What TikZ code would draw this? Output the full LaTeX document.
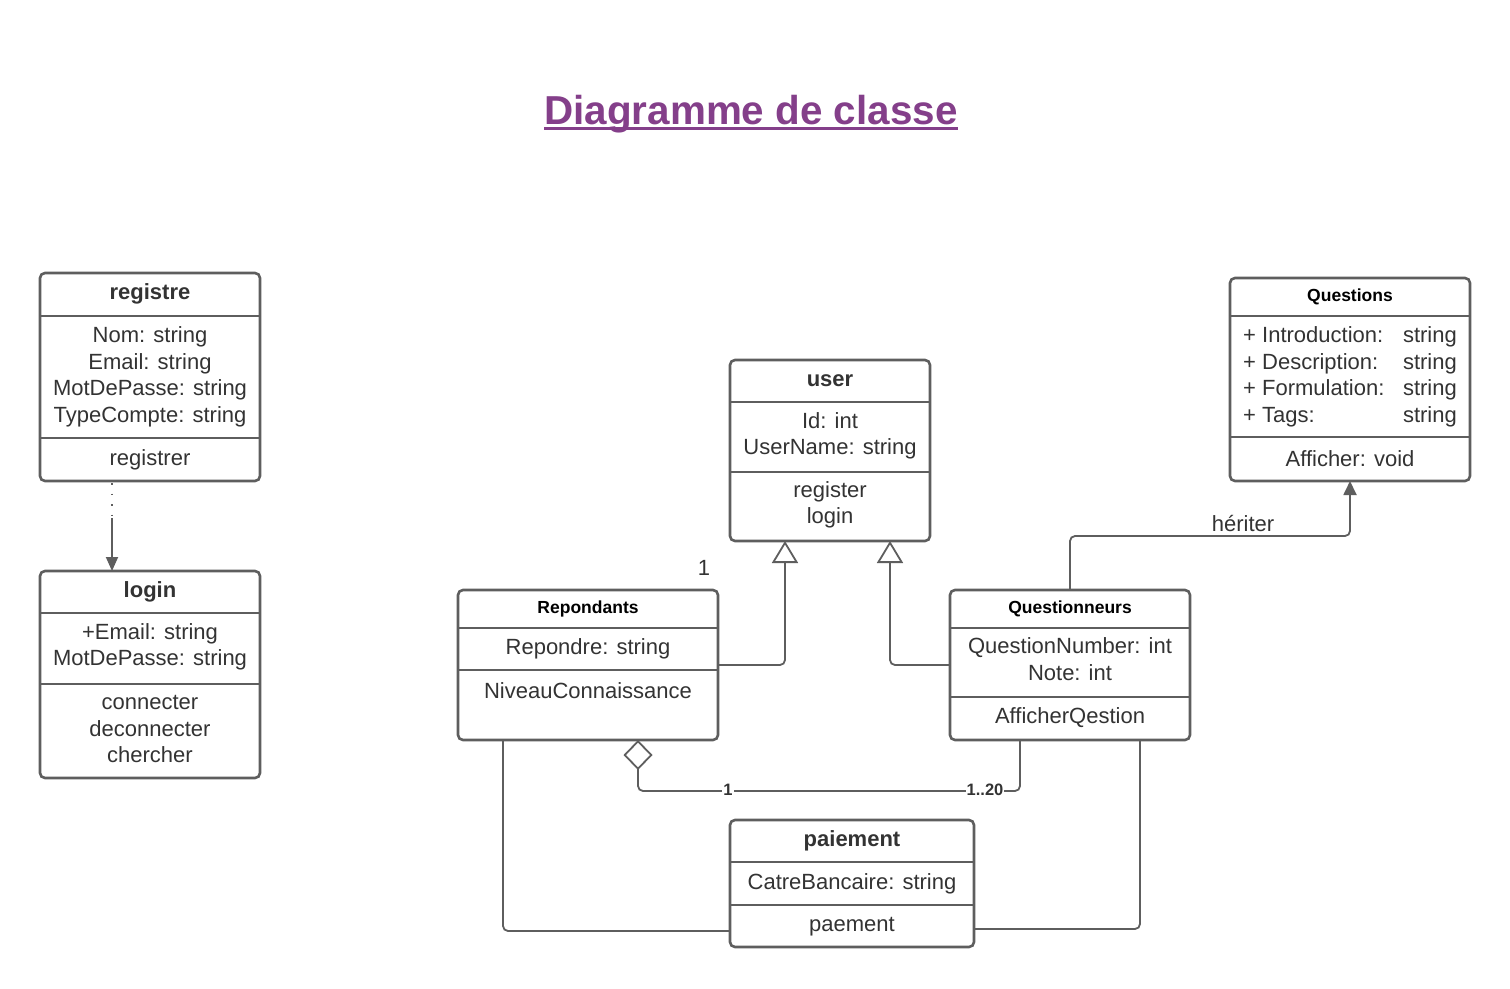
\documentclass[tikz,border=0pt]{standalone}
\usepackage{fontspec}
\setmainfont{Liberation Sans}
\usetikzlibrary{arrows.meta,calc}
\definecolor{lc}{RGB}{94,94,94}
\definecolor{tc}{RGB}{51,51,51}
\definecolor{titlec}{RGB}{132,63,138}
\begin{document}
\begin{tikzpicture}[x=1pt,y=-1pt,
  box/.style={draw=lc, line width=2.6pt, rounded corners=5pt, fill=white, anchor=north west, inner sep=0pt, outer sep=0pt},
  divline/.style={draw=lc, line width=2.6pt},
  txt/.style={text=tc, font=\fontsize{22}{26.5}\selectfont, align=center, inner sep=0pt},
  ttl/.style={text=tc, font=\bfseries\fontsize{22}{26.5}\selectfont, inner sep=0pt},
  sttl/.style={text=black, font=\bfseries\fontsize{17.5}{21}\selectfont, inner sep=0pt},
  conn/.style={draw=lc, line width=1.8pt, rounded corners=5pt},
  mult/.style={text=tc, font=\bfseries\fontsize{16.5}{20}\selectfont, fill=white, inner sep=1pt},
  lbl/.style={text=tc, font=\fontsize{22}{26.5}\selectfont, inner sep=1pt},
]
\useasboundingbox[fill=white] (0,0) rectangle (1510,988);

% title
\node[text=titlec, font=\bfseries\fontsize{40.4}{48}\selectfont, anchor=base, inner sep=0pt] (title) at (751,124) {Diagramme de classe};
\draw[titlec, line width=3pt] ($(title.base west)+(0,4)$) -- ($(title.base east)+(0,4)$);

% boxes
\node[box, minimum width=220pt, minimum height=208pt] (reg) at (40,273) {};
\node[box, minimum width=220pt, minimum height=207pt] (log) at (40,571) {};
\node[box, minimum width=200pt, minimum height=181pt] (user) at (730,360) {};
\node[box, minimum width=240pt, minimum height=203pt] (qs) at (1230,278) {};
\node[box, minimum width=260pt, minimum height=150pt] (rep) at (458,590) {};
\node[box, minimum width=240pt, minimum height=150pt] (qn) at (950,590) {};
\node[box, minimum width=244pt, minimum height=127pt] (pai) at (730,820) {};

% dividers
\draw[divline] (reg.west |- 0,316) -- (reg.east |- 0,316);
\draw[divline] (reg.west |- 0,438) -- (reg.east |- 0,438);
\draw[divline] (log.west |- 0,613) -- (log.east |- 0,613);
\draw[divline] (log.west |- 0,684) -- (log.east |- 0,684);
\draw[divline] (user.west |- 0,402) -- (user.east |- 0,402);
\draw[divline] (user.west |- 0,472) -- (user.east |- 0,472);
\draw[divline] (qs.west |- 0,316) -- (qs.east |- 0,316);
\draw[divline] (qs.west |- 0,437) -- (qs.east |- 0,437);
\draw[divline] (rep.west |- 0,628) -- (rep.east |- 0,628);
\draw[divline] (rep.west |- 0,670) -- (rep.east |- 0,670);
\draw[divline] (qn.west |- 0,628) -- (qn.east |- 0,628);
\draw[divline] (qn.west |- 0,697) -- (qn.east |- 0,697);
\draw[divline] (pai.west |- 0,862) -- (pai.east |- 0,862);
\draw[divline] (pai.west |- 0,905) -- (pai.east |- 0,905);

% texts
\node[ttl] (regT) at (150,294) {registre};
\node[txt] (regA) at (150,377) {Nom: string\\Email: string\\MotDePasse: string\\TypeCompte: string};
\node[txt] (regM) at (150,460) {registrer};

\node[ttl] (logT) at (150,592) {login};
\node[txt] (logA) at (150,647) {+Email: string\\MotDePasse: string};
\node[txt] (logM) at (150,729) {connecter\\deconnecter\\chercher};

\node[ttl] (userT) at (830,381) {user};
\node[txt] (userA) at (830,436) {Id: int\\UserName: string};
\node[txt] (userM) at (830,505) {register\\login};

\node[sttl] (qsT) at (1350,297) {Questions};
\node[txt, align=left, anchor=west] (qsA) at (1243,377) {+ Introduction:\\+ Description:\\+ Formulation:\\+ Tags:};
\node[txt, align=right, anchor=east] (qsB) at (1457,377) {string\\string\\string\\string};
\node[txt] (qsM) at (1350,459) {Afficher: void};

\node[sttl] (repT) at (588,609) {Repondants};
\node[txt] (repA) at (588,649) {Repondre: string};
\node[txt] (repM) at (588,691) {NiveauConnaissance};

\node[sttl] (qnT) at (1070,609) {Questionneurs};
\node[txt] (qnA) at (1070,659) {QuestionNumber: int\\Note: int};
\node[txt] (qnM) at (1070,718) {AfficherQestion};

\node[ttl] (paiT) at (852,841) {paiement};
\node[txt] (paiA) at (852,884) {CatreBancaire: string};
\node[txt] (paiM) at (852,927) {paement};

% connectors
\coordinate (mid) at ($(reg.south)+(-38,37)$);
\draw[conn, rounded corners=0pt, dash pattern=on 1.5pt off 9pt] ($(reg.south)+(-38,2)$) -- (mid);
\draw[conn, -{Triangle[length=14pt,width=12pt]}] (mid) -- ($(log.north)+(-38,0)$);

\draw[conn, -{Triangle[length=22pt,width=26pt,fill=white]}] (rep.east) -| ($(user.south)+(-45,0)$);
\draw[conn, -{Triangle[length=22pt,width=26pt,fill=white]}] (qn.west) -| ($(user.south)+(60,0)$);
\draw[conn, -{Triangle[length=14pt,width=13pt]}] (qn.north) -- ++(0,-54) -| (qs.south);
\node[lbl] (her) at (1243,524) {hériter};

\draw[conn, -{Diamond[length=30pt,width=29pt,fill=white]}] ($(qn.south)+(-50,0)$) -- ++(0,51) -| ($(rep.south)+(50,0)$);
\node[mult] (m1) at (728,790) {1};
\node[mult] (m2) at (985,790) {1..20};
\node[lbl] (one) at (704,568) {1};

\draw[conn] ($(rep.south)+(-85,0)$) |- ($(pai.south west)+(0,-16)$);
\draw[conn] ($(qn.south)+(70,0)$) |- ($(pai.south east)+(0,-18)$);
\end{tikzpicture}
\end{document}
